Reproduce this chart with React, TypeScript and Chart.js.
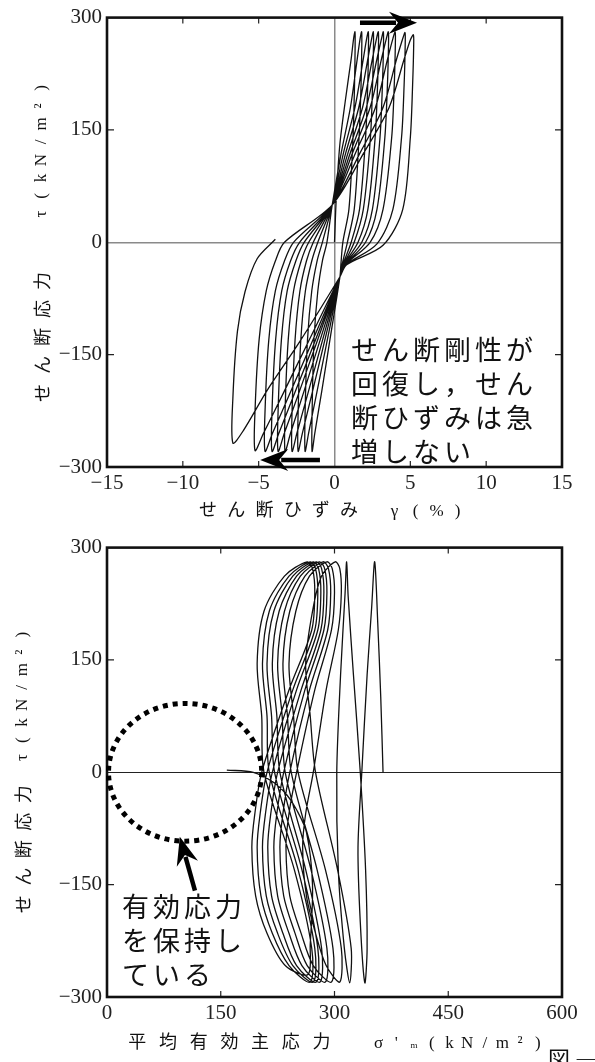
import React, { useEffect, useRef } from "react";
import { Chart, registerables } from "chart.js";
Chart.register(...registerables);

type P = [number, number];

// ---------- top chart: shear strain γ (%) vs shear stress τ (kN/m²) ----------
const topCycle01: P[] = [[0,0],[0.12,60],[0.35,130],[0.72,190],[1.1,245],[1.26,272],[1.35,281],
  [1.36,262],[1.32,210],[1.22,140],[0.95,44],[0.55,0],[0.42,-30],[0.36,-46],[-0.3,-130],[-0.85,-200],[-1.3,-255],[-1.48,-279]];
const topCycle02: P[] = [[-1.47,-220],[-1.35,-130],[-1.1,-65],[-0.8,-25],[-0.5,0],[-0.15,50],[0.45,120],[1.05,180],[1.5,245],[1.69,272],[1.79,281],
  [1.8,262],[1.75,210],[1.62,140],[1.3,44],[0.85,0],[0.5,-30],[0.36,-46],[-0.47,-130],[-1.16,-200],[-1.71,-255],[-1.94,-279]];
const topCycle03: P[] = [[-1.93,-220],[-1.78,-130],[-1.5,-65],[-1.15,-25],[-0.8,0],[-0.15,50],[0.6,120],[1.35,180],[1.9,245],[2.12,272],[2.23,281],
  [2.24,262],[2.19,210],[2.05,140],[1.65,44],[1.1,0],[0.55,-30],[0.36,-46],[-0.63,-130],[-1.46,-200],[-2.12,-255],[-2.4,-279]];
const topCycle04: P[] = [[-2.39,-220],[-2.22,-130],[-1.92,-65],[-1.5,-25],[-1.1,0],[-0.15,50],[0.75,120],[1.6,180],[2.2,245],[2.45,272],[2.56,281],
  [2.57,262],[2.51,210],[2.37,140],[1.9,44],[1.3,0],[0.6,-30],[0.36,-46],[-0.78,-130],[-1.73,-200],[-2.48,-255],[-2.8,-279]];
const topCycle05: P[] = [[-2.79,-220],[-2.6,-130],[-2.28,-65],[-1.85,-25],[-1.4,0],[-0.15,50],[0.9,120],[1.85,180],[2.5,245],[2.77,272],[2.89,281],
  [2.9,262],[2.84,210],[2.68,140],[2.2,44],[1.55,0],[0.62,-30],[0.36,-46],[-0.94,-130],[-2.03,-200],[-2.9,-255],[-3.26,-279]];
const topCycle06: P[] = [[-3.25,-220],[-3.05,-130],[-2.7,-65],[-2.2,-25],[-1.7,0],[-0.15,50],[1.05,120],[2.1,180],[2.8,245],[3.1,272],[3.22,281],
  [3.23,262],[3.16,210],[3.0,140],[2.5,44],[1.8,0],[0.65,-30],[0.36,-46],[-1.11,-130],[-2.33,-200],[-3.31,-255],[-3.72,-279]];
const topCycle07: P[] = [[-3.71,-220],[-3.5,-130],[-3.12,-65],[-2.55,-25],[-2.0,0],[-0.15,50],[1.2,120],[2.35,180],[3.1,245],[3.42,272],[3.55,281],
  [3.56,262],[3.49,210],[3.32,140],[2.8,44],[2.05,0],[0.7,-30],[0.36,-46],[-1.25,-130],[-2.6,-200],[-3.67,-255],[-4.12,-279]];
const topCycle08: P[] = [[-4.11,-220],[-3.88,-130],[-3.48,-65],[-2.9,-25],[-2.3,0],[-0.15,50],[1.4,120],[2.7,180],[3.5,245],[3.85,272],[4.0,281],
  [4.01,262],[3.94,210],[3.77,140],[3.2,44],[2.35,0],[0.72,-30],[0.36,-46],[-1.42,-130],[-2.9,-200],[-4.09,-255],[-4.58,-279]];
const topCycle09: P[] = [[-4.57,-220],[-4.33,-130],[-3.9,-65],[-3.3,-25],[-2.7,0],[-0.15,50],[1.7,120],[3.2,180],[4.1,245],[4.5,272],[4.65,280],
  [4.66,262],[4.59,210],[4.42,140],[3.85,44],[2.8,-2],[0.76,-30],[0.36,-46],[-1.66,-130],[-3.34,-200],[-4.68,-255],[-5.24,-278]];
const topCycle10: P[] = [[-5.23,-220],[-4.97,-130],[-4.5,-65],[-3.9,-25],[-3.3,0],[-0.15,50],[1.95,120],[3.6,180],[4.6,245],[5.0,270],[5.2,277],
  [5.22,262],[5.15,210],[5.0,140],[4.5,44],[3.2,-4],[0.8,-30],[0.36,-46],[-2.27,-132],[-4.45,-198],[-6.0,-251],[-6.7,-268]];
const topFinal: P[] = [[-6.7,-208],[-6.4,-119],[-5.9,-66],[-5.1,-22],[-3.9,4]];

// ---------- bottom chart: mean effective stress σ'm vs τ ----------
const botCycle01: P[] = [[364,0],[361,100],[357,200],[353,281],
  [349,220],[343,130],[336,0],[331,-100],[334,-200],[340,-281]];
const botCycle02: P[] = [[343,-235],[341,-130],[334,0],[325,130],[318,235],[316,281],
  [314,240],[308,130],[303,0],[305,-130],[313,-235],[320,-281]];
const botCycle03: P[] = [[322,-235],[304,-130],[275,0],[268,75],[262,145],[271,215],[283,262],[301,281],
  [307,272],[309,240],[305,190],[289,110],[272,0],[262,-55],[258,-100],[263,-165],[275,-215],[289,-258],[307,-280]];
const botCycle04: P[] = [[309,-235],[288,-130],[252,0],[246,75],[240,145],[249,215],[267,262],[290,281],
  [297,272],[300,240],[296,190],[274,110],[250,0],[240,-55],[236,-100],[241,-165],[256,-215],[272,-258],[296,-280]];
const botCycle05: P[] = [[298,-235],[277,-130],[243,0],[238,75],[232,145],[241,215],[261,262],[285,281],
  [292,272],[295,240],[291,190],[267,110],[241,0],[232,-55],[228,-100],[233,-165],[248,-215],[264,-258],[288,-280]];
const botCycle06: P[] = [[290,-235],[269,-130],[235,0],[231,75],[225,145],[234,215],[255,262],[280,281],
  [287,272],[290,240],[286,190],[261,110],[233,0],[224,-55],[220,-100],[225,-165],[240,-215],[257,-258],[281,-280]];
const botCycle07: P[] = [[283,-235],[262,-130],[228,0],[224,75],[218,145],[227,215],[250,262],[276,281],
  [283,272],[286,240],[282,190],[256,110],[225,0],[216,-55],[212,-100],[217,-165],[232,-215],[250,-258],[276,-280]];
const botCycle08: P[] = [[278,-235],[257,-130],[221,0],[217,75],[211,145],[220,215],[245,262],[272,281],
  [279,272],[282,240],[278,190],[250,110],[218,0],[209,-55],[205,-100],[210,-165],[225,-215],[245,-258],[272,-280]];
const botCycle09: P[] = [[274,-235],[252,-130],[214,0],[211,75],[205,145],[214,215],[240,262],[268,281],
  [275,272],[278,240],[274,190],[245,110],[211,0],[202,-55],[198,-100],[203,-165],[218,-215],[240,-258],[268,-280]];
const botCycle10: P[] = [[270,-235],[247,-130],[207,0],[204,75],[198,145],[207,215],[234,262],[264,281],
  [271,272],[274,240],[270,190],[240,110],[204,0],[195,-55],[191,-100],[196,-165],[211,-215],[235,-258],[265,-270]];
const botFinal: P[] = [[268,-230],[271,-150],[263,-80],[250,-50],[237,-30],[219,-13],[193,0],[158,3]];

// ---------- axes ----------
const strainTicks = [-15, -10, -5, 0, 5, 10, 15];
const stressTicks = [-300, -150, 0, 150, 300];
const meanStressTicks = [0, 150, 300, 450, 600];

// ---------- annotations (data coordinates) ----------
const topArrowRight: P[] = [[1.68, 293], [5.44, 293]];
const topArrowLeft: P[] = [[-0.96, -290.6], [-4.9, -290.6]];
const botArrow: P[] = [[116, -158], [96, -86]];
const botCircleCenter: P = [103, 0];
const botCircleRadii: P = [101, 92];

const topPath = [topCycle01, topCycle02, topCycle03, topCycle04, topCycle05, topCycle06, topCycle07, topCycle08, topCycle09, topCycle10, topFinal].flat();
const botPath = [botCycle01, botCycle02, botCycle03, botCycle04, botCycle05, botCycle06, botCycle07, botCycle08, botCycle09, botCycle10, botFinal].flat();

const NUM_FONT = { family: '"Liberation Serif", "DejaVu Serif", serif', size: 21 };
const fmt = (v: number) => (v < 0 ? "\u2212" + Math.abs(v) : String(v));

function drawArrow(ctx: CanvasRenderingContext2D, x0: number, y0: number, x1: number, y1: number) {
  const ang = Math.atan2(y1 - y0, x1 - x0);
  const headLen = 25, headHalf = 11;
  const c = Math.cos(ang), s = Math.sin(ang);
  const bx = x1 - headLen * c, by = y1 - headLen * s;
  ctx.save();
  ctx.strokeStyle = "#000"; ctx.fillStyle = "#000"; ctx.lineWidth = 4.5;
  ctx.beginPath(); ctx.moveTo(x0, y0); ctx.lineTo(bx + 4 * c, by + 4 * s); ctx.stroke();
  ctx.beginPath();
  ctx.moveTo(x1, y1);
  ctx.lineTo(bx + headHalf * s - 3 * c, by - headHalf * c - 3 * s);
  ctx.lineTo(bx + 6 * c, by + 6 * s);
  ctx.lineTo(bx - headHalf * s - 3 * c, by + headHalf * c - 3 * s);
  ctx.closePath(); ctx.fill();
  ctx.restore();
}

function makeFramePlugin(arrows: P[][], circle: null | { c: P; r: P }) {
  return {
    id: "frameAndMarks",
    afterDraw(chart: any) {
      const ctx: CanvasRenderingContext2D = chart.ctx;
      const { left, right, top, bottom } = chart.chartArea;
      const xs = chart.scales.x, ys = chart.scales.y;
      ctx.save();
      ctx.strokeStyle = "#222"; ctx.lineWidth = 1.2;
      xs.ticks.forEach((t: any) => {
        if (t.value === xs.min || t.value === xs.max || t.value === 0) return;
        const px = xs.getPixelForValue(t.value);
        ctx.beginPath(); ctx.moveTo(px, bottom); ctx.lineTo(px, bottom - 6); ctx.moveTo(px, top); ctx.lineTo(px, top + 6); ctx.stroke();
      });
      ys.ticks.forEach((t: any) => {
        if (t.value === ys.min || t.value === ys.max || t.value === 0) return;
        const py = ys.getPixelForValue(t.value);
        ctx.beginPath(); ctx.moveTo(left, py); ctx.lineTo(left + 7, py); ctx.moveTo(right, py); ctx.lineTo(right - 7, py); ctx.stroke();
      });
      ctx.strokeStyle = "#111"; ctx.lineWidth = 2.6;
      ctx.strokeRect(left, top, right - left, bottom - top);
      if (circle) {
        const cx = xs.getPixelForValue(circle.c[0]), cy = ys.getPixelForValue(circle.c[1]);
        const rx = Math.abs(xs.getPixelForValue(circle.c[0] + circle.r[0]) - cx);
        const ry = Math.abs(ys.getPixelForValue(circle.c[1] + circle.r[1]) - cy);
        ctx.strokeStyle = "#000"; ctx.lineWidth = 5; ctx.setLineDash([5, 5]);
        ctx.beginPath(); ctx.ellipse(cx, cy, rx, ry, 0, 0, Math.PI * 2); ctx.stroke();
        ctx.setLineDash([]);
      }
      arrows.forEach((a) => {
        drawArrow(ctx, xs.getPixelForValue(a[0][0]), ys.getPixelForValue(a[0][1]), xs.getPixelForValue(a[1][0]), ys.getPixelForValue(a[1][1]));
      });
      ctx.restore();
    },
  };
}

function makeConfig(path: P[], xTicks: number[], xHeight: number, zeroX: boolean, zeroColor: string, zeroWidth: number, plugin: any): any {
  return {
    type: "scatter",
    data: {
      datasets: [{
        data: path.map(([x, y]) => ({ x, y })),
        showLine: true, borderColor: "#111", borderWidth: 1.3, pointRadius: 0, tension: 0.3, fill: false,
      }],
    },
    options: {
      animation: false, responsive: false, maintainAspectRatio: false,
      layout: { padding: { left: 0, right: 33, top: 13, bottom: 0 } },
      plugins: { legend: { display: false }, tooltip: { enabled: false } },
      scales: {
        x: {
          type: "linear", min: xTicks[0], max: xTicks[xTicks.length - 1],
          afterBuildTicks: (s: any) => { s.ticks = xTicks.map((v) => ({ value: v })); },
          ticks: { font: NUM_FONT, color: "#222", padding: 4, maxRotation: 0, callback: (v: number) => fmt(v) },
          grid: { drawTicks: false, lineWidth: 1.5, color: (c: any) => (zeroX && c.tick && c.tick.value === 0 ? zeroColor : "rgba(0,0,0,0)") },
          border: { display: false },
          afterFit: (s: any) => { s.height = xHeight; },
        },
        y: {
          type: "linear", min: stressTicks[0], max: stressTicks[stressTicks.length - 1],
          afterBuildTicks: (s: any) => { s.ticks = stressTicks.map((v) => ({ value: v })); },
          ticks: { font: NUM_FONT, color: "#222", padding: 5, callback: (v: number) => fmt(v) },
          grid: { drawTicks: false, lineWidth: zeroWidth, color: (c: any) => (c.tick && c.tick.value === 0 ? zeroColor : "rgba(0,0,0,0)") },
          border: { display: false },
          afterFit: (s: any) => { s.width = 107; },
        },
      },
    },
    plugins: [plugin],
  };
}

const CJK = '"Noto Sans CJK JP", sans-serif';
const SERIF = '"Liberation Serif", "DejaVu Serif", serif';

function Chars({ text, pitch, size, font }: { text: string; pitch: number; size: number; font: string }) {
  return (
    <>
      {Array.from(text).map((c, i) => (
        <span key={i} style={{ display: "inline-block", width: pitch, textAlign: "center", fontSize: size, fontFamily: font }}>{c}</span>
      ))}
    </>
  );
}

function VTitle({ cx, cy, w, children }: { cx: number; cy: number; w: number; children: any }) {
  return (
    <div style={{ position: "absolute", left: cx - w / 2, top: cy - 13, width: w, height: 26, lineHeight: "26px", transform: "rotate(-90deg)", transformOrigin: "50% 50%", whiteSpace: "nowrap", display: "flex", alignItems: "center", color: "#111" }}>
      {children}
    </div>
  );
}

export default function App() {
  const topRef = useRef<HTMLCanvasElement>(null);
  const botRef = useRef<HTMLCanvasElement>(null);
  useEffect(() => {
    const c1 = new Chart(topRef.current as HTMLCanvasElement, makeConfig(topPath, strainTicks, 63, true, "#8a8a8a", 1.5, makeFramePlugin([topArrowRight, topArrowLeft], null)));
    const c2 = new Chart(botRef.current as HTMLCanvasElement, makeConfig(botPath, meanStressTicks, 65, false, "#222", 1.1, makeFramePlugin([botArrow], { c: botCircleCenter, r: botCircleRadii })));
    return () => { c1.destroy(); c2.destroy(); };
  }, []);

  return (
    <div style={{ position: "absolute", left: 0, top: 0, width: 595, height: 1062, background: "#fff", overflow: "hidden" }}>
      <canvas ref={topRef} width={595} height={530} style={{ position: "absolute", left: 0, top: 0, width: 595, height: 530 }} />
      <canvas ref={botRef} width={595} height={532} style={{ position: "absolute", left: 0, top: 530, width: 595, height: 532 }} />

      <VTitle cx={41} cy={242} w={330}>
        <Chars text="せん断応力" pitch={28} size={18} font={CJK} />
        <span style={{ display: "inline-block", width: 44 }} />
        <Chars text="τ(kN/m²)" pitch={18} size={17} font={SERIF} />
      </VTitle>
      <div style={{ position: "absolute", left: 194, top: 495, height: 26, lineHeight: "26px", whiteSpace: "nowrap", color: "#111" }}>
        <Chars text="せん断ひずみ" pitch={28.2} size={18} font={CJK} />
        <span style={{ display: "inline-block", width: 21 }} />
        <Chars text="γ(%)" pitch={21} size={17} font={SERIF} />
      </div>
      <div style={{ position: "absolute", left: 351, top: 332, fontFamily: CJK, fontSize: 27, lineHeight: "34px", letterSpacing: 4, color: "#111", whiteSpace: "nowrap" }}>
        <div>せん断剛性が</div>
        <div>回復し，せん</div>
        <div>断ひずみは急</div>
        <div>増しない</div>
      </div>

      <VTitle cx={22} cy={768} w={300}>
        <Chars text="せん断応力" pitch={27.5} size={18} font={CJK} />
        <span style={{ display: "inline-block", width: 14 }} />
        <Chars text="τ(kN/m²)" pitch={17.6} size={17} font={SERIF} />
      </VTitle>
      <div style={{ position: "absolute", left: 122, top: 1027, height: 26, lineHeight: "26px", whiteSpace: "nowrap", color: "#111" }}>
        <Chars text="平均有効主応力" pitch={30.7} size={18} font={CJK} />
        <span style={{ display: "inline-block", width: 33 }} />
        <Chars text="σ'" pitch={17.7} size={17} font={SERIF} />
        <Chars text="m" pitch={17.7} size={9} font={SERIF} />
        <Chars text="(kN/m²)" pitch={17.7} size={17} font={SERIF} />
      </div>
      <div style={{ position: "absolute", left: 122, top: 889, fontFamily: CJK, fontSize: 27, lineHeight: "34px", letterSpacing: 4, color: "#111", whiteSpace: "nowrap" }}>
        <div>有効応力</div>
        <div>を保持し</div>
        <div>ている</div>
      </div>
      <div style={{ position: "absolute", left: 548, top: 1044, fontFamily: CJK, fontSize: 22, lineHeight: "26px", color: "#111", whiteSpace: "nowrap" }}>図 ―</div>
    </div>
  );
}
